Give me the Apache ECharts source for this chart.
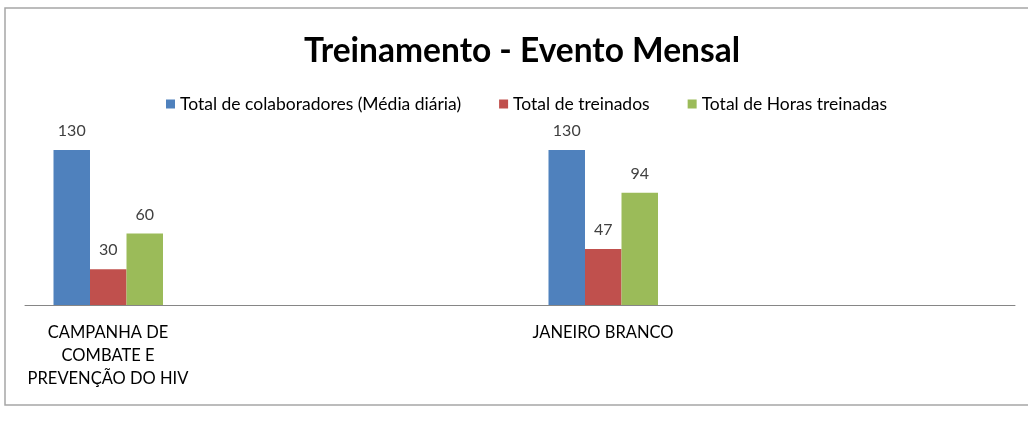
<!DOCTYPE html>
<html>
<head>
<meta charset="utf-8">
<script src="https://cdn.jsdelivr.net/npm/echarts@6/dist/echarts.min.js"></script>
<style>
  html, body { margin: 0; padding: 0; background: #fff; }
  #chart { width: 1028px; height: 421px; }
</style>
</head>
<body>
<div id="chart"></div>
<script>
// dados do gráfico
var categorias = ['CAMPANHA DE\nCOMBATE E\nPREVENÇÃO DO HIV', 'JANEIRO BRANCO'];
var colaboradores = [130, 130];
var treinados = [30, 47];
var horasTreinadas = [60, 94];
var nomesSeries = ['Total de colaboradores (Média diária)', 'Total de treinados', 'Total de Horas treinadas'];
var cores = ['#4F81BD', '#C0504D', '#9BBB59'];

var fonte = 'Lato';
var chart = echarts.init(document.getElementById('chart'));

var labelTopo = {
    show: true,
    position: 'top',
    distance: 11,
    fontFamily: fonte,
    fontSize: 16,
    color: '#404040'
};

var series = [colaboradores, treinados, horasTreinadas].map(function (d, i) {
    return {
        name: nomesSeries[i],
        type: 'bar',
        data: d,
        barWidth: 36.5,
        barGap: 0,
        itemStyle: { color: cores[i] },
        label: labelTopo
    };
});
// no Excel o grupo tem séries vazias, que empurram as barras para a esquerda
for (var k = 0; k < 9; k++) {
    series.push({
        name: 'vazio' + k,
        type: 'bar',
        data: [null, null],
        barWidth: 36.5,
        barGap: 0
    });
}

var option = {
    animation: false,
    title: {
        text: 'Treinamento - Evento Mensal',
        left: 299,
        top: 29,
        textStyle: { fontFamily: fonte, fontSize: 33.5, fontWeight: 'bold', color: '#000' }
    },
    legend: {
        data: nomesSeries,
        top: 90,
        left: 161,
        itemWidth: 9,
        itemHeight: 9,
        itemGap: 38,
        icon: 'rect',
        textStyle: { fontFamily: fonte, fontSize: 17.5, color: '#000' }
    },
    grid: { left: 25, right: 13, top: 138, bottom: 116 },
    xAxis: {
        type: 'category',
        data: categorias,
        axisLine: { lineStyle: { color: '#868686', width: 1 } },
        axisTick: { show: false },
        axisLabel: {
            fontFamily: fonte,
            fontSize: 16.5,
            color: '#000',
            lineHeight: 23,
            margin: 16,
            padding: [0, 329, 0, 0],
            interval: 0
        }
    },
    yAxis: {
        type: 'value',
        min: 0,
        max: 140,
        show: false
    },
    graphic: [{
        type: 'rect',
        shape: { x: 5, y: 8, width: 1040, height: 397 },
        style: { fill: null, stroke: '#A6A6A6', lineWidth: 1.5 },
        silent: true
    }],
    series: series
};

chart.setOption(option);
</script>
</body>
</html>
